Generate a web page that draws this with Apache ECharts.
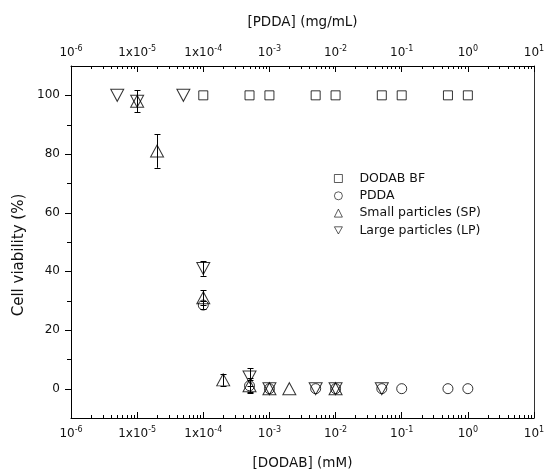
<!DOCTYPE html>
<html><head><meta charset="utf-8">
<script src="https://cdn.jsdelivr.net/npm/echarts@6/dist/echarts.min.js"></script>
<style>html,body{margin:0;padding:0;background:#fff}#c{width:546px;height:472px}</style>
</head><body><div id="c"></div>
<script>
// ---- data ----
const seriesNames = ['DODAB BF', 'PDDA', 'Small particles (SP)', 'Large particles (LP)'];
const dodabX = [1e-4, 5e-4, 1e-3, 5e-3, 1e-2, 5e-2, 1e-1, 5e-1, 1];
const dodabY = [100, 100, 100, 100, 100, 100, 100, 100, 100];
const pddaX = [1e-4, 5e-4, 1e-3, 5e-3, 1e-2, 5e-2, 1e-1, 5e-1, 1];
const pddaY = [28.5, 1, 0, 0, 0, 0, 0, 0, 0];
const pddaErr = [1.5, 2, 0, 0, 0, 0, 0, 0, 0];
const spX = [1e-5, 2e-5, 1e-4, 2e-4, 5e-4, 1e-3, 2e-3, 1e-2];
const spY = [98, 81, 31, 3, 1, 0, 0, 0];
const spErr = [0, 5.7, 2.5, 2, 2.5, 0, 0, 0];
const lpX = [5e-6, 1e-5, 5e-5, 1e-4, 5e-4, 1e-3, 5e-3, 1e-2, 5e-2];
const lpY = [100, 98, 100, 41, 4, 0, 0, 0, 0];
const lpErr = [0, 3.8, 0, 2.5, 3, 0, 0, 0, 0];
const tickDecades = [-6, -5, -4, -3, -2, -1, 0, 1];
const tickBase = ['10', '1x10', '1x10', '10', '10', '10', '10', '10'];
const tickExp = ['-6', '-5', '-4', '-3', '-2', '-1', '0', '1'];
const minorMult = [2, 3, 4, 5, 6, 7, 8, 9];
const yMajor = [0, 20, 40, 60, 80, 100];
const yMinor = [10, 30, 50, 70, 90];
const xMin = 1e-6, xMax = 10, yMin = -10, yMax = 110;

// ---- build ----
const FONT = 'DejaVu Sans';
const pairs = (xs, ys) => xs.map((x, i) => [x, ys[i]]);
const errs = [];
[[pddaX, pddaY, pddaErr], [spX, spY, spErr], [lpX, lpY, lpErr]].forEach(([xs, ys, es]) => {
  xs.forEach((x, i) => { if (es[i] > 0) errs.push([x, ys[i] - es[i], ys[i] + es[i]]); });
});
const minorX = [];
tickDecades.slice(0, -1).forEach(d => minorMult.forEach(m => minorX.push([m * Math.pow(10, d), yMin])));
const yTicks = yMajor.map(v => [xMin, v, 6]).concat(yMinor.map(v => [xMin, v, 4]));

const downTri = 'path://M0,0 L20,0 L10,18 Z';
const markStyle = { color: 'transparent', borderColor: '#000', borderWidth: 1 };

function labelFmt(v) {
  const e = Math.round(Math.log10(v));
  const i = tickDecades.indexOf(e);
  if (i < 0) return '';
  return '{b|' + tickBase[i] + '}{s|' + tickExp[i] + '}';
}
const richLab = {
  b: { fontFamily: FONT, fontSize: 12, lineHeight: 16, color: '#111' },
  s: { fontFamily: FONT, fontSize: 8, lineHeight: 9, verticalAlign: 'top', color: '#111' }
};
function xAxisCfg(pos, name, gap, margin) {
  return {
    type: 'log', logBase: 10, min: xMin, max: xMax, position: pos,
    name: name, nameLocation: 'middle', nameGap: gap,
    nameTextStyle: { fontFamily: FONT, fontSize: 13.5, color: '#111' },
    axisLine: { show: true, onZero: false, lineStyle: { color: '#000', width: 1 } },
    axisTick: { show: true, inside: true, length: 6, lineStyle: { color: '#000', width: 1 } },
    axisLabel: { formatter: labelFmt, rich: richLab, margin: margin },
    splitLine: { show: false }, minorTick: { show: false }
  };
}
const crisp = v => Math.round(v) + 0.5;

const option = {
  backgroundColor: '#fff',
  animation: false,
  grid: { left: 71, right: 12, top: 66, bottom: 54, containLabel: false, outerBoundsMode: 'none' },
  legend: {
    orient: 'vertical', left: 329, top: 167, itemGap: 4.3, itemWidth: 8, itemHeight: 8,
    data: seriesNames,
    itemStyle: { color: 'transparent', borderColor: '#000', borderWidth: 0.8 },
    textStyle: { fontFamily: FONT, fontSize: 12.5, color: '#111', padding: [0, 0, 0, 12] }
  },
  xAxis: [
    xAxisCfg('bottom', '[DODAB] (mM)', 38, 8),
    xAxisCfg('top', '[PDDA] (mg/mL)', 37, 5)
  ],
  yAxis: [
    {
      type: 'value', min: yMin, max: yMax, interval: 10, position: 'left',
      name: 'Cell viability (%)', nameLocation: 'middle', nameGap: 36,
      nameTextStyle: { fontFamily: FONT, fontSize: 15, color: '#111', padding: [0, 26, 0, 0] },
      axisLine: { show: true, onZero: false, lineStyle: { color: '#000', width: 1 } },
      axisTick: { show: false },
      axisLabel: { margin: 11, fontFamily: FONT, fontSize: 12, color: '#111',
        formatter: v => (yMajor.indexOf(v) >= 0 ? String(v) : '') },
      splitLine: { show: false }
    },
    {
      type: 'value', min: yMin, max: yMax, position: 'right',
      axisLine: { show: true, onZero: false, lineStyle: { color: '#333', width: 1 } },
      axisTick: { show: false }, axisLabel: { show: false }, splitLine: { show: false }
    }
  ],
  series: [
    { name: seriesNames[0], type: 'scatter', data: pairs(dodabX, dodabY), symbol: 'rect', symbolSize: 9, itemStyle: markStyle },
    { name: seriesNames[1], type: 'scatter', data: pairs(pddaX, pddaY), symbol: 'circle', symbolSize: 10, itemStyle: markStyle },
    { name: seriesNames[2], type: 'scatter', data: pairs(spX, spY), symbol: 'triangle', symbolSize: [13, 12], itemStyle: markStyle },
    { name: seriesNames[3], type: 'scatter', data: pairs(lpX, lpY), symbol: downTri, symbolSize: [13, 12], symbolKeepAspect: false, itemStyle: markStyle },
    {
      type: 'custom', name: 'err', silent: true, data: errs, z: 3,
      encode: { x: 0, y: [1, 2] },
      renderItem: (params, api) => {
        const x = api.value(0);
        const lo = api.coord([x, api.value(1)]), hi = api.coord([x, api.value(2)]);
        const cx = crisp(lo[0]);
        const st = { stroke: '#000', lineWidth: 1 };
        return { type: 'group', children: [
          { type: 'line', shape: { x1: cx, y1: lo[1], x2: cx, y2: hi[1] }, style: st },
          { type: 'line', shape: { x1: cx - 3, y1: crisp(lo[1]), x2: cx + 3, y2: crisp(lo[1]) }, style: st },
          { type: 'line', shape: { x1: cx - 3, y1: crisp(hi[1]), x2: cx + 3, y2: crisp(hi[1]) }, style: st }
        ]};
      }
    },
    {
      type: 'custom', name: 'xminor', silent: true, clip: false, data: minorX, z: 4,
      renderItem: (params, api) => {
        const x = api.value(0);
        const b = api.coord([x, yMin]), t = api.coord([x, yMax]);
        const cx = crisp(b[0]);
        const st = { stroke: '#000', lineWidth: 1 };
        return { type: 'group', children: [
          { type: 'line', shape: { x1: cx, y1: b[1], x2: cx, y2: b[1] - 3 }, style: st },
          { type: 'line', shape: { x1: cx, y1: t[1], x2: cx, y2: t[1] + 3 }, style: st }
        ]};
      }
    },
    {
      type: 'custom', name: 'yticks', silent: true, clip: false, data: yTicks, z: 4,
      renderItem: (params, api) => {
        const p = api.coord([api.value(0), api.value(1)]);
        const cy = crisp(p[1]);
        return { type: 'line', shape: { x1: p[0] - api.value(2), y1: cy, x2: p[0], y2: cy },
          style: { stroke: '#000', lineWidth: 1 } };
      }
    }
  ]
};
const chart = echarts.init(document.getElementById('c'), null, { renderer: 'canvas' });
chart.setOption(option);
</script>
</body></html>
